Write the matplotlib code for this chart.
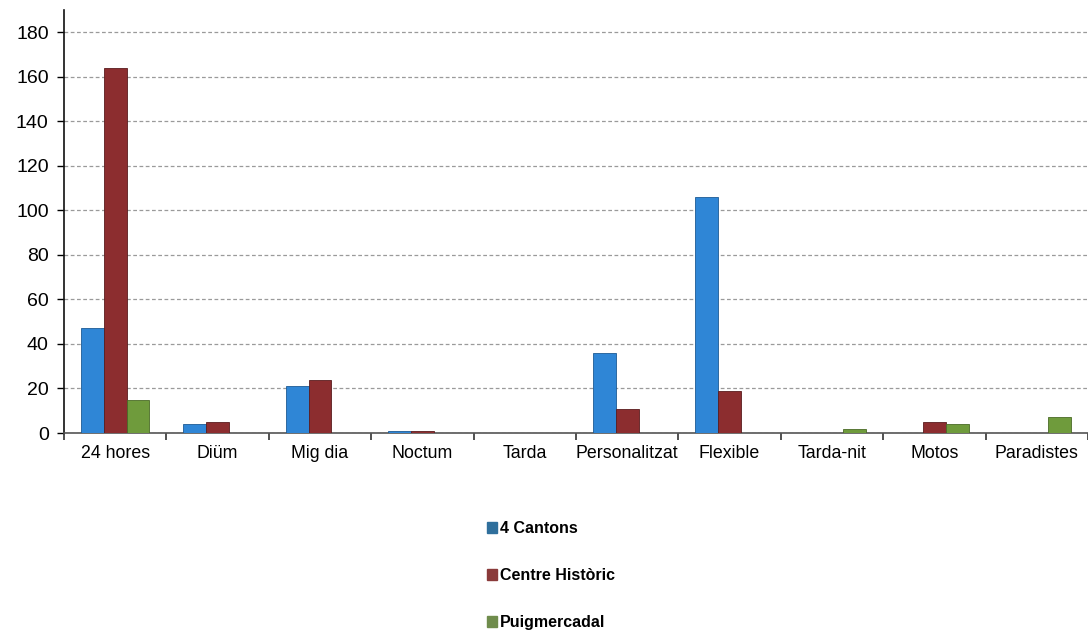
"""Bar chart of schedule types per neighbourhood."""
import matplotlib

matplotlib.use("Agg")
import matplotlib.pyplot as plt
import numpy as np

plt.rcParams["font.family"] = ["Liberation Sans", "DejaVu Sans"]

categories = ["24 hores", "Diüm", "Mig dia", "Noctum", "Tarda", "Personalitzat",
              "Flexible", "Tarda-nit", "Motos", "Paradistes"]
cantons = [47, 4, 21, 1, 0, 36, 106, 0, 0, 0]
centre_historic = [164, 5, 24, 1, 0, 11, 19, 0, 5, 0]
puigmercadal = [15, 0, 0, 0, 0, 0, 0, 2, 4, 7]
series_names = ["4 Cantons", "Centre Històric", "Puigmercadal"]
yticks = [0, 20, 40, 60, 80, 100, 120, 140, 160, 180]

colors = ["#2f86d6", "#8c2d2f", "#6f9b3c"]
edges = ["#1d5a94", "#5a1c1e", "#4a6a26"]

fig = plt.figure(figsize=(10.88, 6.35), dpi=100)
ax = fig.add_axes([64 / 1088, 202 / 635, 1024 / 1088, 423 / 635])

x = np.arange(len(categories))
w = 1 / 4.5
for i, (vals, name) in enumerate(zip([cantons, centre_historic, puigmercadal], series_names)):
    ax.bar(x + (i - 1) * w, vals, width=w, color=colors[i], edgecolor=edges[i],
           linewidth=0.6, label=name, zorder=3)

ax.set_xlim(-0.5, len(categories) - 0.5)
ax.set_ylim(0, 190)
ax.set_yticks(yticks)
ax.yaxis.grid(True, linestyle=(0, (3, 2)), color="#9a9a9a", linewidth=0.9)
ax.set_axisbelow(True)

ax.set_xticks(x)
ax.set_xticklabels(categories, fontsize=12.8)
ax.set_xticks(np.arange(len(categories) + 1) - 0.5, minor=True)
ax.tick_params(axis="x", which="major", length=0, pad=9)
ax.tick_params(axis="x", which="minor", length=5, width=1.2, color="#333333")
ax.tick_params(axis="y", length=5, width=1, labelsize=14, pad=6)

for side in ("top", "right"):
    ax.spines[side].set_visible(False)
ax.spines["left"].set_color("#111111")
ax.spines["left"].set_linewidth(1.2)
ax.spines["bottom"].set_color("#555555")
ax.spines["bottom"].set_linewidth(1.2)

legend_colors = ["#2f6f9c", "#8a3a3a", "#6f8c4c"]
handles = [plt.Rectangle((0, 0), 1, 1, color=c) for c in legend_colors]
fig.legend(handles, series_names, loc="upper left",
           bbox_to_anchor=(476 / 1088, 1 - 510 / 635), frameon=False,
           handlelength=0.6, handleheight=0.6, handletextpad=0.2,
           labelspacing=2.0, borderpad=0.2,
           prop={"size": 11.5, "weight": "bold"})

fig.savefig("out.png", dpi=100)
plt.close(fig)
